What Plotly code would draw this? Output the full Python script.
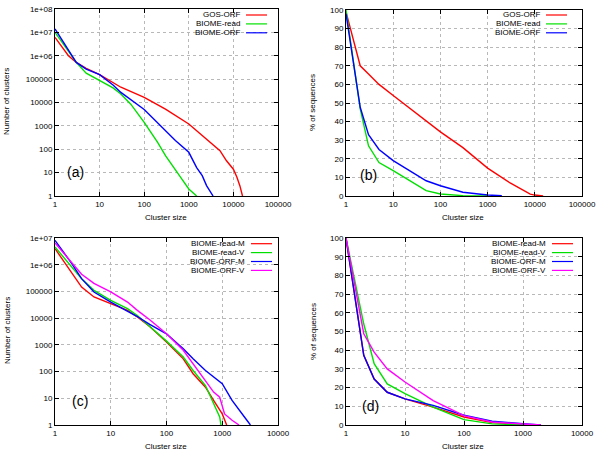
import plotly.graph_objects as go

# panel (a): number of clusters vs cluster size
a_names = ["GOS-ORF", "BIOME-read", "BIOME-ORF"]
a_gos_x = [1, 2, 3, 5, 10, 20, 30, 100, 300, 1000, 2000, 3000, 5000, 7000, 10000, 12000, 14000, 16000]
a_gos_y = [6.1e6, 1.0e6, 5.2e5, 2.9e5, 1.55e5, 6.8e4, 4.5e4, 1.66e4, 5.2e3, 1.2e3, 380, 195, 87, 32, 14, 6.3, 2.7, 1]
a_read_x = [1, 2, 3, 5, 10, 20, 30, 50, 100, 200, 300, 500, 700, 1000, 1500]
a_read_y = [1e7, 1.66e6, 5.2e5, 1.8e5, 8.5e4, 4.2e4, 2.3e4, 8.5e3, 1.4e3, 195, 53, 14, 5.3, 2, 1]
a_orf_x = [1, 2, 3, 5, 10, 20, 30, 100, 300, 500, 1000, 1500, 2000, 2500, 3500]
a_orf_y = [1.4e7, 1.9e6, 5.2e5, 2.7e5, 1.55e5, 5.6e4, 2.7e4, 5e3, 620, 235, 74, 16.5, 7.4, 2.8, 1]

# panel (b): % of sequences vs cluster size
b_gos_x = [1, 2, 3, 5, 10, 20, 30, 50, 100, 300, 500, 1000, 3000, 5000, 8000, 10000, 15000]
b_gos_y = [99, 70, 65.6, 60, 54, 48, 44.5, 40, 34.5, 26, 21.5, 15, 7, 4, 1, 0.5, 0]
b_read_x = [1, 2, 3, 5, 10, 20, 30, 50, 100, 300, 1000]
b_read_y = [100, 46.8, 27, 18, 13.6, 9, 6.5, 2.9, 1.1, 0.2, 0.05]
b_orf_x = [1, 2, 3, 5, 10, 20, 30, 50, 100, 300, 1000, 2000]
b_orf_y = [98, 47.7, 33, 25, 19, 14.5, 11.8, 8.2, 5.5, 2, 0.5, 0.1]

# panel (c): number of clusters, M / V split
c_names = ["BIOME-read-M", "BIOME-read-V", "BIOME-ORF-M", "BIOME-ORF-V"]
c_rm_x = [1, 2, 3, 5, 10, 20, 30, 50, 100, 200, 300, 500, 700, 1000, 1200]
c_rm_y = [4e6, 4.6e5, 1.45e5, 6.2e4, 3.5e4, 1.95e4, 1.1e4, 4.9e3, 1.27e3, 300, 83, 26, 8.3, 2.6, 1]
c_rv_x = [1, 2, 3, 5, 10, 20, 30, 50, 100, 200, 300, 500, 700, 900, 950]
c_rv_y = [4.6e6, 8e5, 3e5, 1.1e5, 4.6e4, 2.25e4, 1.26e4, 4.9e3, 1.38e3, 350, 110, 30, 6.3, 2, 1]
c_om_x = [1, 2, 3, 5, 10, 20, 30, 50, 100, 200, 300, 500, 1000, 1500, 2000, 2500, 3200]
c_om_y = [8.2e6, 1.1e6, 3e5, 9.5e4, 4e4, 1.85e4, 1.15e4, 5.8e3, 2.6e3, 720, 300, 110, 35, 8.3, 3.5, 2, 1]
c_ov_x = [1, 2, 3, 5, 10, 20, 30, 50, 100, 200, 300, 500, 700, 900, 1000, 1100, 1500, 2000]
c_ov_y = [6.5e6, 1.2e6, 4.4e5, 2e5, 9.6e4, 4e4, 1.95e4, 8.7e3, 2.6e3, 630, 200, 47, 17, 11, 4.6, 2.6, 1.5, 1]

# panel (d): % of sequences, M / V split
d_rm_x = [1, 2, 3, 5, 10, 30, 100, 300, 1000, 2000]
d_rm_y = [100, 37.3, 24.6, 17.5, 14, 9.6, 4.3, 1.3, 0.3, 0]
d_rv_x = [1, 2, 3, 5, 10, 30, 100, 300, 1000]
d_rv_y = [100, 54, 32.8, 22, 16.8, 9.6, 2.9, 0.6, 0.1]
d_om_x = [1, 2, 3, 5, 10, 30, 100, 300, 1000, 2000]
d_om_y = [100, 37.3, 24.6, 17.5, 14, 10.5, 5.2, 2, 0.7, 0]
d_ov_x = [1, 2, 3, 5, 10, 30, 100, 300, 1000, 2000]
d_ov_y = [100, 48.8, 39, 30, 23, 13, 5, 1.6, 0.5, 0]

colors3 = ["#ff0000", "#00e000", "#0000ff"]
colors4 = ["#ff0000", "#00e000", "#0000ff", "#ff00ff"]

log_y_vals = [10 ** i for i in range(9)]
log_y_text = ["1", "10", "100", "1000", "10000", "100000", "1e+06", "1e+07", "1e+08"]

W, H = 600, 455
FONT = "Liberation Sans, Arial, sans-serif"
TXT = dict(family=FONT, size=8, color="black")

fig = go.Figure()

panels = [
    # (xaxis, yaxis, series, names, colors, x domain px, y domain px, label)
    ("x", "y", [(a_gos_x, a_gos_y), (a_read_x, a_read_y), (a_orf_x, a_orf_y)], a_names, colors3, (55, 278), (9, 196), "(a)"),
    ("x2", "y2", [(b_gos_x, b_gos_y), (b_read_x, b_read_y), (b_orf_x, b_orf_y)], a_names, colors3, (346, 582), (10, 196), "(b)"),
    ("x3", "y3", [(c_rm_x, c_rm_y), (c_rv_x, c_rv_y), (c_om_x, c_om_y), (c_ov_x, c_ov_y)], c_names, colors4, (55, 278), (238, 425), "(c)"),
    ("x4", "y4", [(d_rm_x, d_rm_y), (d_rv_x, d_rv_y), (d_om_x, d_om_y), (d_ov_x, d_ov_y)], c_names, colors4, (346, 582), (238, 425), "(d)"),
]

for xa, ya, series, names, cols, _, _, _ in panels:
    for (sx, sy), name, col in zip(series, names, cols):
        fig.add_trace(go.Scatter(x=sx, y=sy, mode="lines", name=name,
                                 line=dict(color=col, width=1.4),
                                 xaxis=xa, yaxis=ya, showlegend=False))

axis_common = dict(
    showline=True, linecolor="black", linewidth=1, mirror="allticks",
    ticks="inside", ticklen=4, tickcolor="black",
    showgrid=True, gridcolor="#b8b8b8", griddash="dot", gridwidth=1,
    zeroline=False, automargin=False, tickfont=TXT,
)

layout = {}
for i, (xa, ya, series, names, cols, xd, yd, lab) in enumerate(panels):
    xkey = "xaxis" if i == 0 else f"xaxis{i + 1}"
    ykey = "yaxis" if i == 0 else f"yaxis{i + 1}"
    xmax = 5 if i < 2 else 4
    xvals = [10 ** k for k in range(xmax + 1)]
    layout[xkey] = dict(axis_common, type="log", range=[0, xmax], tickvals=xvals,
                        ticktext=[str(v) for v in xvals],
                        domain=[xd[0] / W, xd[1] / W], anchor=ya)
    if i % 2 == 0:
        ymax = 8 if i == 0 else 7
        layout[ykey] = dict(axis_common, type="log", range=[0, ymax],
                            tickvals=log_y_vals[:ymax + 1], ticktext=log_y_text[:ymax + 1],
                            domain=[1 - yd[1] / H, 1 - yd[0] / H], anchor=xa)
    else:
        layout[ykey] = dict(axis_common, range=[0, 100], dtick=10,
                            domain=[1 - yd[1] / H, 1 - yd[0] / H], anchor=xa)

fig.update_layout(**layout)

annotations = []
shapes = []
# gnuplot-style keys: right-aligned label followed by a line sample
key_pos = [(241, 15), (541, 15), (246, 243.7), (547, 243.7)]
label_pos = [(75, 172), (368, 175), (80, 401), (370, 406)]
ytitle_pos = [(7, 102), (313, 102), (7, 331), (313, 331)]
xtitle_pos = [(166, 217), (463, 217), (166, 446), (463, 446)]
ytitles = ["Number of clusters", "% of sequences", "Number of clusters", "% of sequences"]
for k, panel in enumerate(panels):
    names, cols, lab = panel[3], panel[4], panel[7]
    tx, ty = key_pos[k]
    for j, (name, col) in enumerate(zip(names, cols)):
        yy = ty + j * 8.9
        annotations.append(dict(x=tx / W, y=1 - yy / H, xref="paper", yref="paper",
                                text=name, showarrow=False, xanchor="right", yanchor="middle",
                                borderpad=0, font=TXT))
        shapes.append(dict(type="line", xref="paper", yref="paper",
                           x0=(tx + 5) / W, x1=(tx + 26) / W, y0=1 - yy / H, y1=1 - yy / H,
                           line=dict(color=col, width=1.2)))
    lx, ly = label_pos[k]
    annotations.append(dict(x=lx / W, y=1 - ly / H, xref="paper", yref="paper",
                            text=lab, showarrow=False, xanchor="center", yanchor="middle",
                            font=dict(family=FONT, size=14, color="black")))
    px_, py_ = xtitle_pos[k]
    annotations.append(dict(x=px_ / W, y=1 - py_ / H, xref="paper", yref="paper",
                            text="Cluster size", showarrow=False, xanchor="center",
                            yanchor="middle", borderpad=0, font=TXT))
    qx, qy = ytitle_pos[k]
    annotations.append(dict(x=qx / W, y=1 - qy / H, xref="paper", yref="paper",
                            text=ytitles[k], showarrow=False, textangle=-90,
                            xanchor="center", yanchor="middle", borderpad=0, font=TXT))

fig.update_layout(
    width=W, height=H,
    margin=dict(l=0, r=0, t=0, b=0),
    paper_bgcolor="white", plot_bgcolor="white",
    annotations=annotations, shapes=shapes,
)

fig.write_html("out.html", config={"displayModeBar": False},
               post_script="document.body.style.margin='0';")
